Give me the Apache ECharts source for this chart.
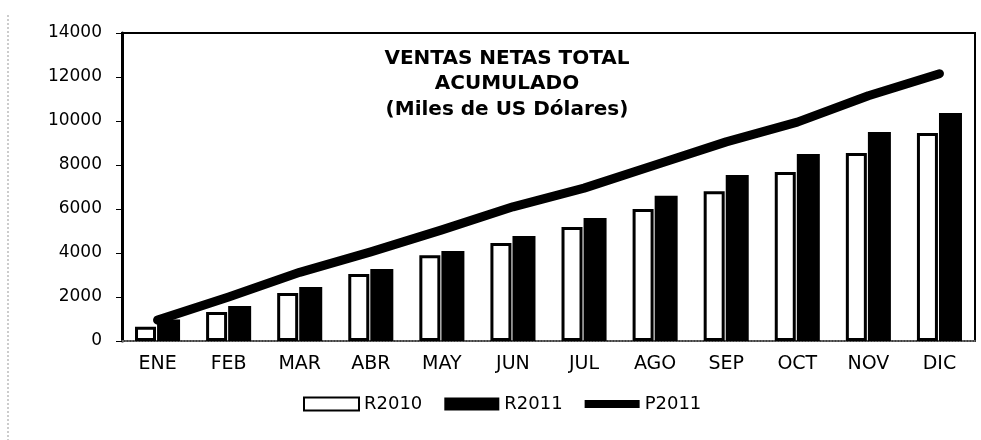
<!DOCTYPE html>
<html>
<head>
<meta charset="utf-8">
<script src="https://cdn.jsdelivr.net/npm/echarts@6/dist/echarts.min.js"></script>
<style>
  html, body { margin: 0; padding: 0; background: #fff; }
  #chart { width: 981px; height: 440px; }
</style>
</head>
<body>
<div id="chart"></div>
<script>
// meses
const months = ['ENE', 'FEB', 'MAR', 'ABR', 'MAY', 'JUN', 'JUL', 'AGO', 'SEP', 'OCT', 'NOV', 'DIC']

// valores acumulados
const r2010 = [650, 1320, 2180, 3050, 3900, 4450, 5180, 6000, 6810, 7680, 8540, 9450]
const r2011 = [980, 1590, 2450, 3270, 4090, 4770, 5590, 6600, 7550, 8500, 9500, 10360]
const p2011 = [950, 2000, 3120, 4050, 5050, 6100, 6950, 8000, 9050, 9950, 11150, 12150]

const titleLines = ['VENTAS NETAS TOTAL', 'ACUMULADO', '(Miles de US Dólares)']

const font = 'DejaVu Sans'

// icono de linea gruesa para la leyenda (los M extienden la caja a 55x13)
const thickLineIcon = 'path://M0 0M55 13M0 2.5H55V10.5H0Z'

const chart = echarts.init(document.getElementById('chart'))

chart.setOption({
    animation: false,
    backgroundColor: '#fff',
    textStyle: {fontFamily: font, color: '#000'},
    title: {
        text: titleLines.join('\n'),
        left: 507,
        top: 46,
        padding: 0,
        textAlign: 'center',
        textStyle: {fontFamily: font, fontSize: 20, fontWeight: 'bold', lineHeight: 25.5, color: '#000'}
    },
    grid: {
        left: 122, right: 6, top: 33, bottom: 99,
        show: true, borderColor: '#000', borderWidth: 2
    },
    legend: {
        data: [
            {name: 'R2010', icon: 'rect'},
            {name: 'R2011', icon: 'rect'},
            {name: 'P2011', icon: thickLineIcon, itemStyle: {color: '#000'}}
        ],
        bottom: 22,
        left: 298,
        itemWidth: 55,
        itemHeight: 13,
        itemGap: 22,
        textStyle: {fontFamily: font, fontSize: 18, color: '#000'}
    },
    xAxis: {
        type: 'category',
        data: months,
        axisLine: {lineStyle: {color: '#888', type: 'dotted', width: 1.5}},
        axisTick: {show: false},
        axisLabel: {fontSize: 19, color: '#000', margin: 14}
    },
    yAxis: {
        type: 'value',
        min: 0,
        max: 14000,
        interval: 2000,
        splitLine: {show: false},
        axisLine: {show: true, lineStyle: {color: '#000', width: 3}},
        axisTick: {show: true, length: 6, lineStyle: {color: '#000'}},
        axisLabel: {fontSize: 17, color: '#000', margin: 20, formatter: v => String(v)}
    },
    graphic: [{
        type: 'line',
        shape: {x1: 8, y1: 15, x2: 8, y2: 440},
        style: {stroke: '#999', lineWidth: 1, lineDash: [2, 2]}
    }],
    series: [
        {
            name: 'R2010',
            type: 'bar',
            data: r2010,
            barWidth: 21,
            barGap: '5%',
            itemStyle: {color: '#fff', borderColor: '#000', borderWidth: 3}
        },
        {
            name: 'R2011',
            type: 'bar',
            data: r2011,
            barWidth: 23,
            itemStyle: {color: '#000'}
        },
        {
            name: 'P2011',
            type: 'line',
            data: p2011,
            symbol: 'none',
            lineStyle: {color: '#000', width: 9, cap: 'round', join: 'round'},
            itemStyle: {color: '#000'}
        }
    ]
})
</script>
</body>
</html>
